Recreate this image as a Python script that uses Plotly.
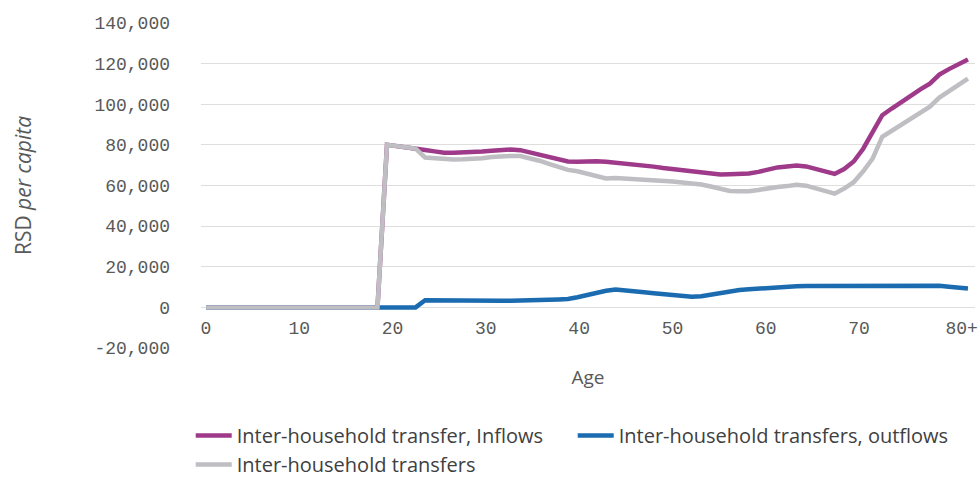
import plotly.graph_objects as go

# Ages 0..80 (last category is "80+")
ages = list(range(81))

# Age-axis labels and their positions on the label scale
age_label_pos = [0, 10, 20, 30, 40, 50, 60, 70, 81]
age_labels = ["0", "10", "20", "30", "40", "50", "60", "70", "80+"]

# Value-axis ticks
y_tick_vals = [-20000, 0, 20000, 40000, 60000, 80000, 100000, 120000, 140000]
y_tick_text = ["-20,000", "0", "20,000", "40,000", "60,000", "80,000",
               "100,000", "120,000", "140,000"]

# RSD per capita by age
inflows = [0] * 19 + [
    80000, 79500, 78900, 78200, 77500, 76800, 76100, 76100, 76200, 76400,   # 19-28
    76700, 77100, 77600, 77700, 77400, 76300, 75300, 74200, 73000, 71800,   # 29-38
    71700, 72000, 71900, 71700, 71300, 70900, 70500, 70000, 69300, 68600,   # 39-48
    68100, 67600, 66800, 66200, 65800, 65400, 65500, 65700, 65900, 66700,   # 49-58
    67900, 68900, 69400, 69900, 69400, 68300, 67000, 65700, 68100, 71800,   # 59-68
    78100, 85900, 94600, 97900, 101100, 104400, 107300, 110100, 114600,     # 69-77
    117300, 119700, 122000,                                                 # 78-80+
]

outflows = [0] * 23 + [
    3500, 3400, 3300, 3300, 3250, 3250, 3250, 3250, 3250, 3300,             # 23-32
    3300, 3400, 3600, 3800, 3900, 4100, 5000, 6200, 7100, 8200,             # 33-42
    8800, 8500, 8000, 7500, 7000, 6500, 5900, 5400, 5200, 5500,             # 43-52
    6300, 7100, 8000, 8600, 8900, 9300, 9700, 10000, 10200, 10400,          # 53-62
    10500, 10500, 10500, 10500, 10600, 10700, 10800, 10900, 11000, 11000,   # 63-72
    11000, 11000, 10900, 10800, 10600, 10200, 9800, 9300,                   # 73-80+
]

net = [0] * 19 + [
    80000, 79500, 78900, 78200, 73800, 73300, 72800, 72800, 72900, 73000,   # 19-28
    73400, 74000, 74400, 74550, 74500, 73400, 72200, 70600, 69000, 67700,   # 29-38
    67000, 66000, 64800, 63500, 63700, 63500, 63200, 62900, 62500, 62300,   # 39-48
    62000, 61500, 61100, 60500, 59500, 58400, 57300, 57200, 57200, 57800,   # 49-58
    58800, 59300, 59700, 60400, 59900, 58500, 57200, 56000, 58500, 61600,   # 59-68
    67000, 73300, 84000, 87000, 90000, 93000, 95800, 98800, 103300,         # 69-77
    106500, 109500, 112600,                                                 # 78-80+
]

names = [
    "Inter-household transfer, Inflows",
    "Inter-household transfers, outflows",
    "Inter-household transfers",
]
colors = ["#9E3A89", "#1B6BB0", "#BEBEC3"]

TEXT = "#595959"
LEGEND_TEXT = "#404040"
GRID = "#DEDEDE"
TICK_FONT = dict(family="Liberation Mono, DejaVu Sans Mono, monospace", size=18, color=TEXT)
LABEL_FONT = "Open Sans, sans-serif"

fig = go.Figure()
for series, name, color in zip([inflows, outflows, net], names, colors):
    fig.add_trace(go.Scatter(x=ages, y=series, name=name, mode="lines",
                             line=dict(color=color, width=4.5)))
# an empty trace keeps the label axis active
fig.add_trace(go.Scatter(x=[], y=[], xaxis="x2", showlegend=False, hoverinfo="skip"))

fig.update_layout(
    width=978, height=480,
    margin=dict(l=201, r=3, t=23, b=132),
    paper_bgcolor="white", plot_bgcolor="white",
    font=dict(family=LABEL_FONT, color=TEXT),
    # data scale for the age axis
    xaxis=dict(
        range=[-0.53, 80.74], automargin=False,
        showticklabels=False, showgrid=False, zeroline=False,
        showline=False, ticks="",
    ),
    # age labels, set along the zero line
    xaxis2=dict(
        overlaying="x", anchor="free", position=0.125, side="bottom",
        range=[-0.536, 82.43], automargin=False,
        tickmode="array", tickvals=age_label_pos, ticktext=age_labels,
        tickfont=TICK_FONT, ticklabelstandoff=8,
        showgrid=False, zeroline=False, showline=False, ticks="",
        title=dict(text="Age", font=dict(family=LABEL_FONT, size=19, color=TEXT),
                   standoff=32),
    ),
    yaxis=dict(
        range=[-20000, 140000], automargin=False,
        tickmode="array", tickvals=y_tick_vals, ticktext=y_tick_text,
        tickfont=TICK_FONT,
        showgrid=True, gridcolor=GRID, gridwidth=1,
        zeroline=False, showline=False, ticks="", ticklabelstandoff=30,
        title=dict(text="RSD <i>per capita</i>",
                   font=dict(family=LABEL_FONT, size=21, color=TEXT), standoff=57),
    ),
    legend=dict(
        orientation="h", xref="container", x=0.195, xanchor="left",
        yref="container", y=0.1333, yanchor="top",
        font=dict(family=LABEL_FONT, size=20, color=LEGEND_TEXT),
        entrywidth=331, itemwidth=36, bgcolor="rgba(0,0,0,0)",
    ),
)

fig.write_html("out.html")
